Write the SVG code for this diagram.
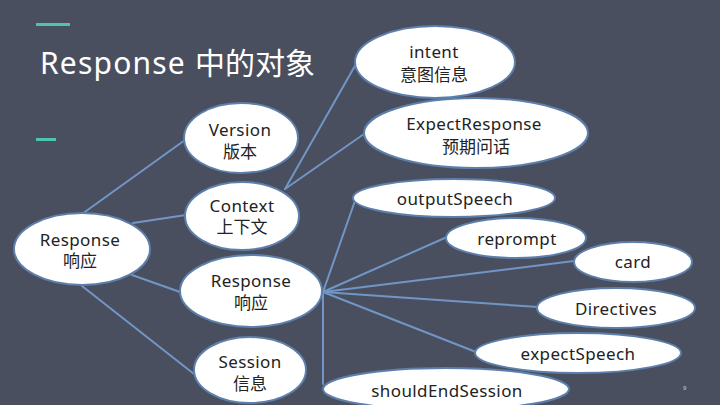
<svg xmlns="http://www.w3.org/2000/svg" width="720" height="405" viewBox="0 0 720 405">
<defs>
<style>
.node ellipse{fill:#ffffff;stroke:#5c7fab;stroke-width:2}
.node text{font-family:"Noto Sans","Noto Sans CJK SC",sans-serif;font-size:17px;fill:#222222;text-anchor:middle}
.node text.en{letter-spacing:0.4px}
.conn line{stroke:#7196c6;stroke-width:2;stroke-linecap:round}
.title{font-family:"Noto Sans","Noto Sans CJK SC",sans-serif;font-size:30px;fill:#ffffff}
</style>
</defs>
<rect x="0" y="0" width="720" height="405" fill="#4a4f5f"/>
<rect x="36" y="23" width="34" height="3" fill="#4fc3b0"/>
<rect x="36" y="138" width="20" height="3" fill="#4fc3b0"/>
<text class="title" x="40" y="74"><tspan letter-spacing="1.2">Response </tspan><tspan>中的对象</tspan></text>
<g id="connectors" class="conn">
<line x1="82" y1="214" x2="185" y2="140"/>
<line x1="133" y1="223" x2="186" y2="215"/>
<line x1="132" y1="275" x2="180" y2="292"/>
<line x1="82" y1="286" x2="194" y2="374"/>
<line x1="285" y1="189" x2="356" y2="64"/>
<line x1="285" y1="189" x2="364" y2="134"/>
<line x1="323" y1="292" x2="356" y2="198"/>
<line x1="323" y1="292" x2="447" y2="237"/>
<line x1="323" y1="292" x2="574" y2="261"/>
<line x1="323" y1="292" x2="538" y2="307"/>
<line x1="323" y1="292" x2="476" y2="352"/>
<line x1="323" y1="292" x2="323" y2="384"/>
</g>
<g id="n-response-root" class="node"><ellipse cx="82" cy="249" rx="68" ry="36"/><text class="en" x="80" y="246">Response</text><text x="80" y="267">响应</text></g>
<g id="n-version" class="node"><ellipse cx="241" cy="138" rx="57" ry="35"/><text class="en" x="240" y="136">Version</text><text x="240" y="158">版本</text></g>
<g id="n-context" class="node"><ellipse cx="242" cy="216" rx="57" ry="34"/><text class="en" x="242" y="212">Context</text><text x="242" y="233">上下文</text></g>
<g id="n-response" class="node"><ellipse cx="251" cy="291" rx="71" ry="36"/><text class="en" x="251" y="287">Response</text><text x="251" y="309">响应</text></g>
<g id="n-session" class="node"><ellipse cx="250" cy="370" rx="56" ry="33"/><text class="en" x="250" y="368">Session</text><text x="250" y="390">信息</text></g>
<g id="n-intent" class="node"><ellipse cx="435" cy="62" rx="80" ry="36"/><text class="en" x="434" y="58">intent</text><text x="434" y="81">意图信息</text></g>
<g id="n-expectresponse" class="node"><ellipse cx="476" cy="133" rx="112" ry="35"/><text class="en" x="474" y="130">ExpectResponse</text><text x="476" y="153">预期问话</text></g>
<g id="n-outputspeech" class="node"><ellipse cx="454" cy="198" rx="101" ry="19"/><text class="en" x="455" y="205">outputSpeech</text></g>
<g id="n-reprompt" class="node"><ellipse cx="516" cy="238" rx="70" ry="20"/><text class="en" x="517" y="245">reprompt</text></g>
<g id="n-card" class="node"><ellipse cx="633" cy="262" rx="59" ry="20"/><text class="en" x="633" y="268">card</text></g>
<g id="n-directives" class="node"><ellipse cx="616" cy="308" rx="79" ry="20"/><text class="en" x="616" y="315">Directives</text></g>
<g id="n-expectspeech" class="node"><ellipse cx="578" cy="353" rx="103" ry="20"/><text class="en" x="578" y="360">expectSpeech</text></g>
<g id="n-shouldendsession" class="node"><ellipse cx="446" cy="389" rx="123" ry="21"/><text class="en" x="447" y="397">shouldEndSession</text></g>
<text x="683" y="390" font-family="Noto Sans, sans-serif" font-size="6" fill="#c8ccd8">9</text>
</svg>
